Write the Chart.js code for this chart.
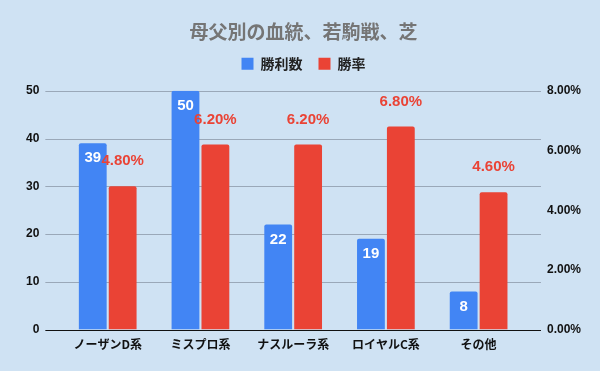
<!DOCTYPE html>
<html>
<head>
<meta charset="utf-8">
<script src="https://cdn.jsdelivr.net/npm/chart.js@4/dist/chart.umd.min.js"></script>
<style>
  html, body { margin: 0; padding: 0; background: #cfe2f3; }
  #wrap { width: 600px; height: 371px; }
</style>
</head>
<body>
<div id="wrap"><canvas id="myChart" width="600" height="371"></canvas></div>
<script>
var categories = ['ノーザンD系', 'ミスプロ系', 'ナスルーラ系', 'ロイヤルC系', 'その他'];
var wins = [39, 50, 22, 19, 8];
var winRate = [4.8, 6.2, 6.2, 6.8, 4.6];
var leftTicks = [0, 10, 20, 30, 40, 50];
var rightTicks = [0, 2, 4, 6, 8];

var jpFont = "'Noto Sans CJK JP', 'Noto Sans', sans-serif";
var numFont = "'Liberation Sans', Arial, 'Noto Sans CJK JP', sans-serif";
var gridExtra = 16;

// グリッド線（プロット領域の外側まで少し伸ばす）
var gridLines = {
    id: 'gridLines',
    beforeDatasetsDraw: function (chart) {
        var c = chart.ctx;
        var area = chart.chartArea;
        var y = chart.scales.y;
        var x0 = area.left - gridExtra;
        var x1 = area.right + gridExtra;
        c.save();
        c.lineWidth = 1;
        c.strokeStyle = '#9aa8b8';
        leftTicks.forEach(function (v) {
            if (v === 0) return;
            var py = Math.round(y.getPixelForValue(v)) + 0.5;
            c.beginPath();
            c.moveTo(x0, py);
            c.lineTo(x1, py);
            c.stroke();
        });
        c.restore();
    },
    afterDatasetsDraw: function (chart) {
        var c = chart.ctx;
        var area = chart.chartArea;
        var py = Math.round(chart.scales.y.getPixelForValue(0)) + 0.5;
        c.save();
        c.lineWidth = 1;
        c.strokeStyle = '#111111';
        c.beginPath();
        c.moveTo(area.left - gridExtra, py);
        c.lineTo(area.right + gridExtra, py);
        c.stroke();
        c.restore();
    }
};

// ラベル描画
var valueLabels = {
    id: 'valueLabels',
    afterDatasetsDraw: function (chart) {
        var c = chart.ctx;
        c.save();
        c.textAlign = 'center';
        c.textBaseline = 'middle';
        c.font = 'bold 15px ' + numFont;
        chart.getDatasetMeta(0).data.forEach(function (bar, i) {
            c.fillStyle = '#ffffff';
            c.fillText(wins[i], bar.x, bar.y + 15);
        });
        chart.getDatasetMeta(1).data.forEach(function (bar, i) {
            c.fillStyle = '#ea4335';
            c.fillText(winRate[i].toFixed(2) + '%', bar.x, bar.y - 25);
        });
        c.restore();
    }
};

// 凡例の下に余白
var legendMargin = {
    id: 'legendMargin',
    beforeInit: function (chart) {
        var fit = chart.legend.fit;
        chart.legend.fit = function () {
            fit.bind(chart.legend)();
            this.height += 10;
        };
    }
};

var ctx = document.getElementById('myChart').getContext('2d');
var myChart = new Chart(ctx, {
    type: 'bar',
    data: {
        labels: categories,
        datasets: [
            {
                label: '勝利数',
                data: wins,
                backgroundColor: '#4285f4',
                yAxisID: 'y',
                borderRadius: 2,
                borderSkipped: 'bottom',
                barPercentage: 0.93,
                categoryPercentage: 0.645
            },
            {
                label: '勝率',
                data: winRate,
                backgroundColor: '#ea4335',
                yAxisID: 'y1',
                borderRadius: 2,
                borderSkipped: 'bottom',
                barPercentage: 0.93,
                categoryPercentage: 0.645
            }
        ]
    },
    options: {
        responsive: false,
        animation: false,
        layout: { padding: { left: 4, right: -3, top: 8, bottom: 11 } },
        plugins: {
            title: {
                display: true,
                text: '母父別の血統、若駒戦、芝',
                color: '#757575',
                font: { family: jpFont, size: 19, weight: 'bold' },
                padding: { top: 12, bottom: -2 }
            },
            legend: {
                labels: {
                    boxWidth: 12,
                    boxHeight: 12,
                    color: '#222222',
                    font: { family: jpFont, size: 14, weight: 'bold' },
                    padding: 16
                }
            },
            tooltip: { enabled: false }
        },
        scales: {
            x: {
                grid: { display: false, drawTicks: false },
                border: { display: false },
                ticks: {
                    color: '#111111',
                    padding: 8,
                    font: { family: jpFont, size: 12, weight: 'bold' },
                    maxRotation: 0
                }
            },
            y: {
                position: 'left',
                min: 0,
                max: 50,
                afterBuildTicks: function (axis) {
                    axis.ticks = leftTicks.map(function (v) { return { value: v }; });
                },
                grid: { display: false, drawTicks: false },
                border: { display: false },
                ticks: {
                    color: '#111111',
                    padding: 22,
                    font: { family: numFont, size: 12, weight: 'bold' }
                }
            },
            y1: {
                position: 'right',
                min: 0,
                max: 8,
                afterBuildTicks: function (axis) {
                    axis.ticks = rightTicks.map(function (v) { return { value: v }; });
                },
                grid: { display: false, drawTicks: false },
                border: { display: false },
                ticks: {
                    color: '#111111',
                    padding: 22,
                    font: { family: numFont, size: 12, weight: 'bold' },
                    callback: function (v) { return v.toFixed(2) + '%'; }
                }
            }
        }
    },
    plugins: [gridLines, valueLabels, legendMargin]
});
</script>
</body>
</html>
